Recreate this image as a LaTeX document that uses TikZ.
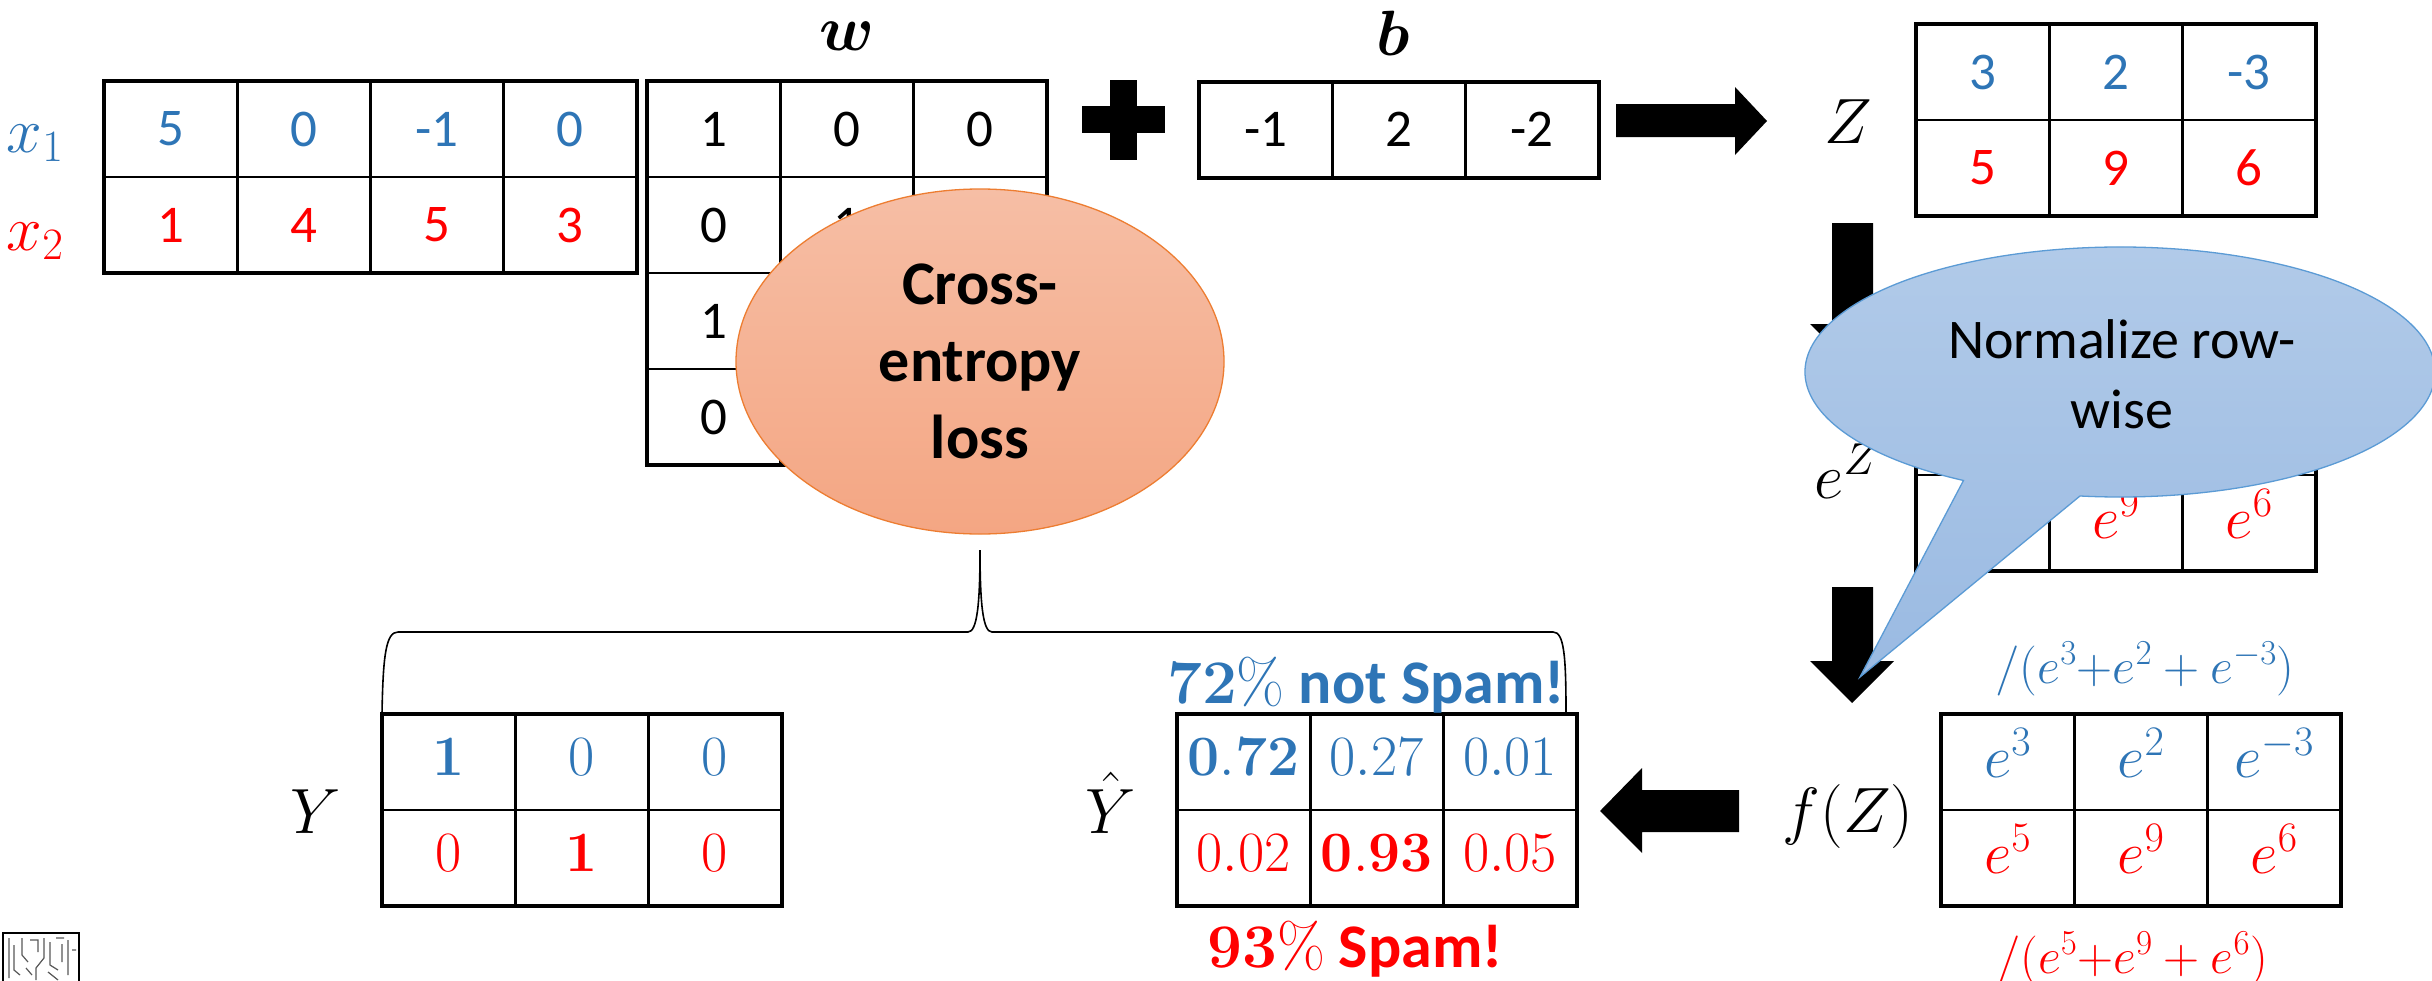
\RequirePackage{fix-cm}
\documentclass[tikz,border=0pt]{standalone}
\usepackage{bm}
\usepackage[no-math]{fontspec}
\setmainfont{Carlito}
\usetikzlibrary{shapes.geometric}
\definecolor{myblue}{HTML}{2E75B6}
\definecolor{myred}{HTML}{FF0000}
\definecolor{ceTop}{HTML}{F6BEA5}
\definecolor{ceBot}{HTML}{F4A683}
\definecolor{ceLine}{HTML}{ED7D31}
\definecolor{nrTop}{HTML}{B2CBE9}
\definecolor{nrBot}{HTML}{9ABAE2}
\definecolor{nrLine}{HTML}{5B9BD5}
\tikzset{
  cellbox/.style={draw, line width=2.6pt, minimum width=133.2pt, minimum height=96pt,
    inner sep=0pt, outer sep=0pt, font=\fontsize{53}{60}\selectfont},
  ecell/.style={font=\fontsize{60}{70}\selectfont, text depth=18pt},
  ycell/.style={font=\fontsize{57}{66}\selectfont, text depth=10pt},
  mframe/.style={line width=4pt},
  lbl/.style={inner sep=0pt, font=\fontsize{64}{70}\selectfont, anchor=base},
  blockarrow/.style={fill=black},
  ceblob/.style={ellipse, draw=ceLine, line width=1.3pt, top color=ceTop, bottom color=ceBot,
    minimum width=488pt, minimum height=345pt, inner sep=0pt, align=center,
    font=\bfseries\fontsize{62}{77}\selectfont},
  callout/.style={draw=nrLine, line width=1.3pt, top color=nrTop, bottom color=nrBot},
  bracestyle/.style={line width=1.6pt},
}
\newcommand\mrow[5]{\foreach \v [count=\i] in {#5} {\node[cellbox,#4] (#1\i) at ({#2+66.6+133.2*(\i-1)},#3) {\v};}}
\begin{document}
\begin{tikzpicture}[x=1pt,y=-1pt]
\useasboundingbox (0,0) rectangle (2432,980);
\fill[white] (0,0) rectangle (2432,980);

% X
\mrow{Xa}{104}{129}{text=myblue}{5,0,-1,0}
\mrow{Xb}{104}{225}{text=myred}{1,4,5,3}
\draw[mframe] (Xa1.north west) rectangle (Xb4.south east);
\node[lbl, text=myblue] (lx1) at (35,152) {$x_1$};
\node[lbl, text=myred] (lx2) at (35,250) {$x_2$};

% W (cells hidden under the ellipse are left empty)
\mrow{Wa}{647}{129}{}{1,0,0}
\mrow{Wb}{647}{225}{}{0,1,{}}
\mrow{Wc}{647}{321}{}{1,{},{}}
\mrow{Wd}{647}{417}{}{0,{},{}}
\draw[mframe] (Wa1.north west) rectangle (Wd3.south east);
\node[lbl] (lw) at (847,50) {$\bm{w}$};

% plus
\fill[blockarrow] (1110,80) rectangle (1137,160);
\fill[blockarrow] (1082,106) rectangle (1165,133);

% b
\mrow{Ba}{1199}{129.5}{}{-1,2,-2}
\draw[mframe] (Ba1.north west) rectangle (Ba3.south east);
\node[lbl] (lb) at (1393,55) {$\bm{b}$};

% right arrow
\fill[blockarrow] (1616,104) -- (1735,104) -- (1735,87) -- (1767,121) -- (1735,155) -- (1735,137) -- (1616,137) -- cycle;

% Z
\node[lbl] (lz) at (1848,143) {$Z$};
\mrow{Za}{1916}{72}{text=myblue}{3,2,-3}
\mrow{Zb}{1916}{168}{text=myred}{5,9,6}
\draw[mframe] (Za1.north west) rectangle (Zb3.south east);

% down arrow 1
\fill[blockarrow] (1832,223) -- (1873,223) -- (1873,324) -- (1894,324) -- (1852,366) -- (1810,324) -- (1832,324) -- cycle;

% e^Z (top row and first cell hidden under the callout)
\node[lbl] (lez) at (1846,498) {$e^{Z}$};
\mrow{Ea}{1916}{427}{ecell,text=myblue}{{},{},{}}
\mrow{Eb}{1916}{523}{ecell,text=myred}{{},$e^{9}$,$e^{6}$}
\draw[mframe] (Ea1.north west) rectangle (Eb3.south east);

% down arrow 2
\fill[blockarrow] (1832,587) -- (1873,587) -- (1873,661) -- (1894,661) -- (1852,703) -- (1810,661) -- (1832,661) -- cycle;

% f(Z)
\node[lbl, font=\fontsize{50}{60}\selectfont, text=myblue] (nb) at (2145,683) {$/(e^{3}{+}e^{2}+e^{-3})$};
\node[lbl] (lfz) at (1848,832) {$f(Z)$};
\mrow{Fa}{1941}{762}{ecell,text=myblue}{$e^{3}$,$e^{2}$,$e^{-3}$}
\mrow{Fb}{1941}{858}{ecell,text=myred}{$e^{5}$,$e^{9}$,$e^{6}$}
\draw[mframe] (Fa1.north west) rectangle (Fb3.south east);
\node[lbl, font=\fontsize{50}{60}\selectfont, text=myred] (nr) at (2132,973) {$/(e^{5}{+}e^{9}+e^{6})$};

% left arrow
\fill[blockarrow] (1739,790) -- (1642,790) -- (1642,768) -- (1600,811) -- (1642,853) -- (1642,832) -- (1739,832) -- cycle;

% Yhat
\node[lbl] (lyh) at (1111,833) {$\hat{Y}$};
\mrow{Ha}{1177}{762}{ycell,text=myblue}{$\mathbf{0.72}$,$0.27$,$0.01$}
\mrow{Hb}{1177}{858}{ycell,text=myred}{$0.02$,$\mathbf{0.93}$,$0.05$}
\draw[mframe] (Ha1.north west) rectangle (Hb3.south east);
\node[lbl, font=\bfseries\fontsize{62}{70}\selectfont, text=myblue] (t72) at (1366,703) {$\mathbf{72\%}$ not Spam!};
\node[lbl, font=\bfseries\fontsize{62}{70}\selectfont, text=myred] (t93) at (1355,967) {$\mathbf{93\%}$ Spam!};

% Y
\node[lbl] (ly) at (316,833) {$Y$};
\mrow{Ya}{382}{762}{ycell,text=myblue}{$\mathbf{1}$,$0$,$0$}
\mrow{Yb}{382}{858}{ycell,text=myred}{$0$,$\mathbf{1}$,$0$}
\draw[mframe] (Ya1.north west) rectangle (Yb3.south east);

% brace
\coordinate (brR) at (1566,713);
\draw[bracestyle] (Ya1.north west) .. controls (383,655) and (386,632) .. (398,632) -- (968,632)
  .. controls (977,632) and (980,605) .. (980,550)
  .. controls (980,605) and (983,632) .. (992,632) -- (1553,632)
  .. controls (1564,632) and (1566,655) .. (brR);

% cross-entropy
\node[ceblob] (ce) at (980,361.5) {Cross-\\entropy\\loss};

% callout
\coordinate (nc) at (2120,372);
\coordinate (ntip) at (1860,677);
\path (nc) ++(240.2:315pt and 125pt) coordinate (ns);
\draw[callout] (ns) arc[start angle=240.2, end angle=-97.3, x radius=315pt, y radius=125pt] -- (ntip) -- cycle;
\node[font=\fontsize{56}{70}\selectfont, align=center, inner sep=0pt] (nrt) at (2122,374) {Normalize row-\\wise};

% logo
\begin{scope}
\clip (4,934) rectangle (78,980);
\draw[gray!70!black, line width=1.2pt] (9,938)--(9,978) (14,945)--(14,970)--(20,975)
  (22,938)--(22,955)--(28,962) (30,940)--(38,940)--(38,952) (44,938)--(44,958)--(36,968)--(36,980)
  (50,942)--(50,965)--(58,970) (56,938)--(64,938) (62,944)--(62,962) (68,940)--(68,975)
  (72,950)--(76,950) (26,968)--(32,975) (48,972)--(58,980);
\end{scope}
\draw[line width=1.5pt] (3,933) rectangle (79,992);
\end{tikzpicture}
\end{document}
